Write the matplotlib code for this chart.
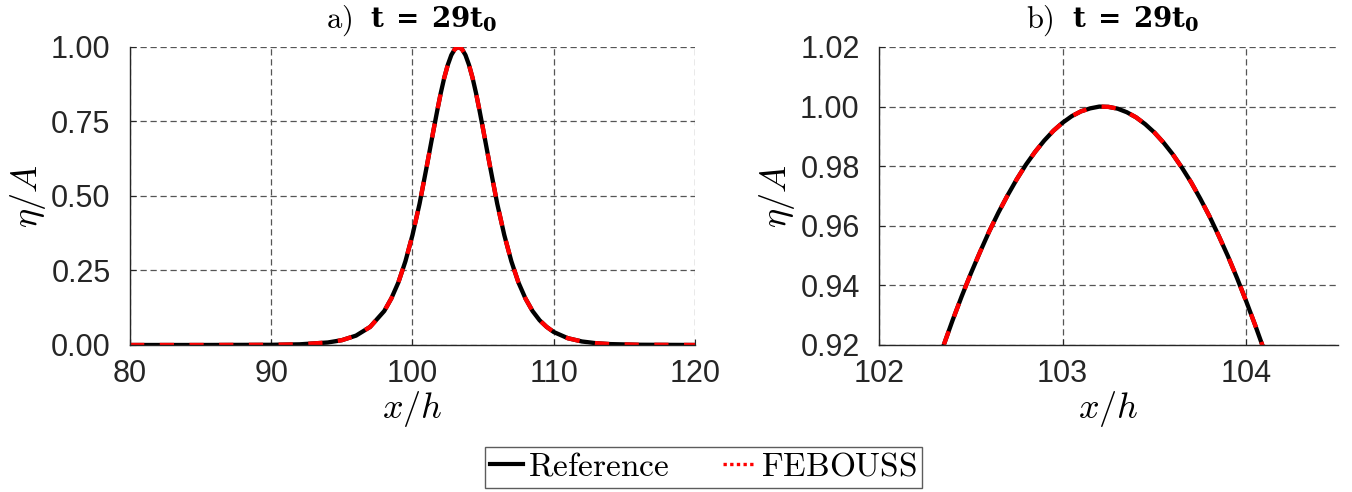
import matplotlib
matplotlib.use("Agg")
import matplotlib.pyplot as plt
from matplotlib.lines import Line2D

# full solitary wave (panel a)
x_full = [80, 85, 90, 92, 94, 95, 96, 97, 98, 98.5, 99, 99.5, 100, 100.5,
          101, 101.5, 101.75, 102, 102.25, 102.5, 102.75, 103, 103.25,
          103.5, 103.75, 104, 104.25, 104.5, 104.75, 105, 105.5, 106,
          106.5, 107, 107.5, 108, 108.5, 109, 109.5, 110, 111, 112, 113,
          114, 116, 120]
eta_full = [0.0, 0.0, 0.0006, 0.0022, 0.0084, 0.0162, 0.0314, 0.0607,
            0.114, 0.156, 0.210, 0.281, 0.369, 0.474, 0.597, 0.724, 0.786,
            0.845, 0.897, 0.940, 0.973, 0.993, 1.0, 0.993, 0.973, 0.940,
            0.897, 0.845, 0.786, 0.724, 0.597, 0.474, 0.369, 0.281, 0.210,
            0.156, 0.114, 0.083, 0.0607, 0.0436, 0.0227, 0.0118, 0.006,
            0.003, 0.0008, 0.0]

# zoom on the crest (panel b)
x_crest = [102.30, 102.35, 102.40, 102.45, 102.50, 102.55, 102.60, 102.65,
           102.70, 102.75, 102.80, 102.85, 102.90, 102.95, 103.00, 103.05,
           103.10, 103.15, 103.20, 103.25, 103.30, 103.35, 103.40, 103.45,
           103.50, 103.55, 103.60, 103.65, 103.70, 103.75, 103.80, 103.85,
           103.90, 103.95, 104.00, 104.05, 104.10, 104.15, 104.20]
eta_crest = [0.9107, 0.9196, 0.9282, 0.9363, 0.9440, 0.9512, 0.9581,
             0.9644, 0.9702, 0.9756, 0.9805, 0.9848, 0.9886, 0.9919,
             0.9946, 0.9968, 0.9984, 0.9994, 1.0000, 0.9999, 0.9993,
             0.9981, 0.9964, 0.9941, 0.9913, 0.9879, 0.9840, 0.9795,
             0.9746, 0.9691, 0.9632, 0.9567, 0.9499, 0.9425, 0.9347,
             0.9265, 0.9179, 0.9089, 0.8994]

plt.rcParams["font.family"] = ["Liberation Sans", "DejaVu Sans"]
plt.rcParams["mathtext.fontset"] = "cm"

fig = plt.figure(figsize = (13.52, 4.92), dpi = 100)
ax_a = fig.add_axes([0.0962, 0.2988, 0.4178, 0.6057])
ax_b = fig.add_axes([0.6502, 0.2988, 0.3394, 0.6057])

tick_col = "#262626"


def style_axes(ax, tag, dx):
    ax.grid(True, linestyle = (0, (5, 3)), color = "#555555", lw = 0.9)
    ax.set_axisbelow(True)
    for side in ("top", "right"):
        ax.spines[side].set_visible(False)
    for side in ("left", "bottom"):
        ax.spines[side].set_color(tick_col)
        ax.spines[side].set_linewidth(1.0)
    ax.tick_params(direction = "in", length = 4, labelsize = 22,
                   colors = tick_col)
    ax.tick_params(axis = "y", pad = 14)
    ax.tick_params(axis = "x", pad = 10)
    ax.set_xlabel(r"$x/h$", fontsize = 26, labelpad = 0)
    ax.set_ylabel(r"$\eta/A$", fontsize = 26, labelpad = 2)
    # title: roman panel tag + bold time stamp
    ax.annotate(r"$\mathrm{" + tag + ")}$", xy = (0.5, 1),
                xycoords = "axes fraction", xytext = (dx, 19),
                textcoords = "offset pixels", ha = "right", va = "baseline",
                fontsize = 22)
    ax.annotate(r"$\mathbf{t\;=\;29t_0}$", xy = (0.5, 1),
                xycoords = "axes fraction", xytext = (dx + 18, 19),
                textcoords = "offset pixels", ha = "left", va = "baseline",
                fontsize = 20, math_fontfamily = "dejavuserif")


def draw(ax, x, y):
    ax.plot(x, y, color = "k", lw = 3.1, solid_capstyle = "butt")
    ax.plot(x, y, color = "r", lw = 3.1, linestyle = (0, (3.3, 3.6)),
            dash_capstyle = "butt")


draw(ax_a, x_full, eta_full)
ax_a.set(xlim = [80, 120], ylim = [0, 1])
ax_a.set_xticks([80, 90, 100, 110, 120])
ax_a.set_yticks([0, 0.25, 0.5, 0.75, 1.0])
ax_a.set_yticklabels(["0.00", "0.25", "0.50", "0.75", "1.00"])
style_axes(ax_a, "a", -60)

draw(ax_b, x_crest, eta_crest)
ax_b.set(xlim = [102, 104.5], ylim = [0.92, 1.02])
ax_b.set_xticks([102, 103, 104])
ax_b.set_yticks([0.92, 0.94, 0.96, 0.98, 1.00, 1.02])
ax_b.set_yticklabels(["0.92", "0.94", "0.96", "0.98", "1.00", "1.02"])
style_axes(ax_b, "b", -55)

handles = [Line2D([], [], color = "k", lw = 3),
           Line2D([], [], color = "r", lw = 2.4, linestyle = (0, (1, 1)))]
leg = fig.legend(handles, [r"$\mathrm{Reference}$", r"$\mathrm{FEBOUSS}$"],
                 loc = "upper center", bbox_to_anchor = (0.5203, 0.092),
                 borderaxespad = 0, ncol = 2, fontsize = 24, frameon = True,
                 fancybox = False, handlelength = 1.0, handletextpad = 0.15,
                 columnspacing = 1.6, borderpad = 0.15)
leg.get_frame().set_edgecolor("#333333")
leg.get_frame().set_linewidth(1.0)

fig.savefig("out.png", dpi = 100)
